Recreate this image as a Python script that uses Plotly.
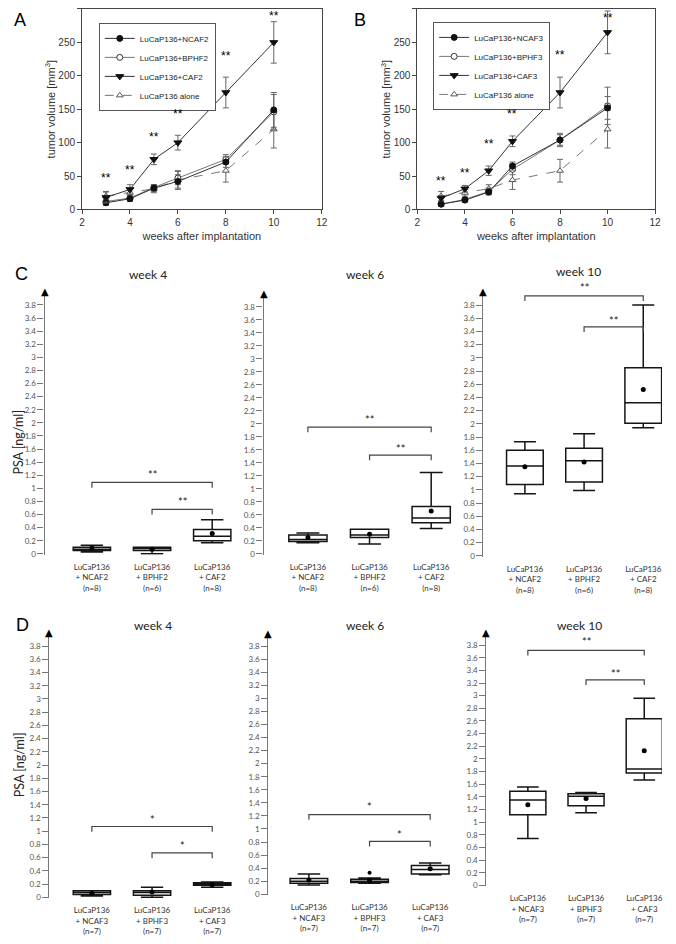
import plotly.graph_objects as go

W, H = 676, 944
OFF = 8                          # default page margin around the plot div
FW, FH = W - 2 * OFF, H - 2 * OFF  # figure fills the window exactly

# ---------------- data: tumour growth (panels A, B) ----------------
WEEKS = [3, 4, 5, 6, 8, 10]

A_NAMES = ["LuCaP136+NCAF2", "LuCaP136+BPHF2", "LuCaP136+CAF2", "LuCaP136 alone"]
A_NCAF2 = [10, 16, 32, 42, 71, 149]
A_NCAF2_ERR = [4, 4, 5, 10, 8, 26]
A_BPHF2 = [12, 17, 33, 47, 75, 146]
A_BPHF2_ERR = [5, 4, 4, 10, 7, 26]
A_CAF2 = [18, 30, 75, 100, 175, 250]
A_CAF2_ERR = [8, 7, 8, 11, 23, 31]
A_STARS_Y = [47, 59, 108, 143, 230, 289]

B_NAMES = ["LuCaP136+NCAF3", "LuCaP136+BPHF3", "LuCaP136+CAF3", "LuCaP136 alone"]
B_NCAF3 = [8, 14, 26, 65, 104, 152]
B_NCAF3_ERR = [3, 3, 4, 6, 10, 17]
B_BPHF3 = [8, 15, 27, 60, 104, 155]
B_BPHF3_ERR = [3, 3, 5, 8, 8, 28]
B_CAF3 = [17, 31, 58, 102, 175, 265]
B_CAF3_ERR = [4, 5, 7, 8, 23, 32]
B_STARS_Y = [42, 55, 98, 143, 231, 287]

ALONE = [20, 25, 31, 44, 58, 120]
ALONE_ERR = [7, 5, 6, 14, 17, 28]

# ---------------- data: PSA box plots (panels C, D) ----------------
PSA_TICKS = [0, 0.2, 0.4, 0.6, 0.8, 1, 1.2, 1.4, 1.6, 1.8, 2, 2.2, 2.4, 2.6, 2.8, 3, 3.2, 3.4, 3.6, 3.8]
PSA_TICK_TEXT = ["0", "0.2", "0.4", "0.6", "0.8", "1", "1.2", "1.4", "1.6", "1.8",
                 "2", "2.2", "2.4", "2.6", "2.8", "3", "3.2", "3.4", "3.6", "3.8"]
C_GROUPS = ["LuCaP136<br>+ NCAF2<br>(n=8)", "LuCaP136<br>+ BPHF2<br>(n=6)", "LuCaP136<br>+ CAF2<br>(n=8)"]
D_GROUPS = ["LuCaP136<br>+ NCAF3<br>(n=7)", "LuCaP136<br>+ BPHF3<br>(n=7)", "LuCaP136<br>+ CAF3<br>(n=7)"]
WEEK_TITLES = ["week 4", "week 6", "week 10"]
BRACKET_PAIRS = [(0, 2), (1, 2)]

C4_LOW = [0.03, 0.00, 0.17]
C4_Q1 = [0.05, 0.05, 0.20]
C4_MED = [0.07, 0.08, 0.27]
C4_Q3 = [0.10, 0.10, 0.37]
C4_HIGH = [0.13, 0.10, 0.52]
C4_MEAN = [0.09, 0.07, 0.31]
C4_BRACKET = [1.09, 0.68]
C4_STAR = [1.21, 0.80]

C6_LOW = [0.17, 0.15, 0.39]
C6_Q1 = [0.19, 0.25, 0.48]
C6_MED = [0.22, 0.29, 0.55]
C6_Q3 = [0.29, 0.38, 0.73]
C6_HIGH = [0.32, 0.38, 1.25]
C6_MEAN = [0.25, 0.30, 0.66]
C6_BRACKET = [1.95, 1.52]
C6_STAR = [2.07, 1.62]

C10_LOW = [0.94, 0.99, 1.94]
C10_Q1 = [1.08, 1.12, 2.01]
C10_MED = [1.36, 1.44, 2.32]
C10_Q3 = [1.60, 1.63, 2.85]
C10_HIGH = [1.73, 1.85, 3.80]
C10_MEAN = [1.35, 1.42, 2.52]
C10_BRACKET = [3.94, 3.47]
C10_STAR = [4.06, 3.57]

D4_LOW = [0.02, 0.00, 0.15]
D4_Q1 = [0.04, 0.03, 0.18]
D4_MED = [0.07, 0.07, 0.20]
D4_Q3 = [0.10, 0.10, 0.22]
D4_HIGH = [0.10, 0.15, 0.23]
D4_MEAN = [0.06, 0.08, 0.19]
D4_BRACKET = [1.07, 0.67]
D4_STAR = [1.18, 0.78]

D6_LOW = [0.14, 0.17, 0.30]
D6_Q1 = [0.17, 0.18, 0.31]
D6_MED = [0.20, 0.20, 0.38]
D6_Q3 = [0.24, 0.23, 0.44]
D6_HIGH = [0.31, 0.25, 0.48]
D6_MEAN = [0.22, 0.21, 0.39]
D6_OUTLIER_X = [1]
D6_OUTLIER_Y = [0.33]
D6_BRACKET = [1.22, 0.81]
D6_STAR = [1.34, 0.91]

D10_LOW = [0.74, 1.15, 1.665]
D10_Q1 = [1.115, 1.26, 1.775]
D10_MED = [1.35, 1.41, 1.84]
D10_Q3 = [1.49, 1.45, 2.635]
D10_HIGH = [1.555, 1.47, 2.96]
D10_MEAN = [1.275, 1.375, 2.13]
D10_BRACKET = [3.715, 3.25]
D10_STAR = [3.86, 3.35]


def fx(p):
    return min(max((p - OFF) / FW, 0.0), 1.0)


def fy(p):
    return min(max(1 - (p - OFF) / FH, 0.0), 1.0)


fig = go.Figure()
ARIAL = "Liberation Sans"
CAL = "Lato"

# ---------------- growth panels ----------------
STYLES = [
    dict(symbol="circle", fill="#111", edge="#111", lc="#333", dash="solid", size=6, rank=1),
    dict(symbol="circle", fill="white", edge="#333", lc="#777", dash="solid", size=6, rank=2),
    dict(symbol="triangle-down", fill="#111", edge="#111", lc="#333", dash="solid", size=7, rank=3),
    dict(symbol="triangle-up", fill="white", edge="#555", lc="#777", dash="dash", size=6, rank=4),
]


def growth(xa, ya, legend, names, values, errors, stars):
    order = [3, 1, 0, 2]
    for i in order:
        st = STYLES[i]
        fig.add_trace(go.Scatter(
            x=WEEKS, y=values[i], name=names[i], mode="lines+markers",
            xaxis=xa, yaxis=ya, legend=legend, legendrank=st["rank"],
            line=dict(color=st["lc"], width=1, dash=st["dash"]),
            marker=dict(symbol=st["symbol"], size=st["size"], color=st["fill"],
                        line=dict(color=st["edge"], width=1)),
            error_y=dict(type="data", array=errors[i], color="#666", thickness=1, width=3),
        ))
    for wk, sy in zip(WEEKS, stars):
        fig.add_annotation(x=wk, y=sy, xref=xa, yref=ya, text="**", showarrow=False,
                           font=dict(family=ARIAL, size=12, color="#000"))


growth("x", "y", "legend", A_NAMES, [A_NCAF2, A_BPHF2, A_CAF2, ALONE],
       [A_NCAF2_ERR, A_BPHF2_ERR, A_CAF2_ERR, ALONE_ERR], A_STARS_Y)
growth("x2", "y2", "legend2", B_NAMES, [B_NCAF3, B_BPHF3, B_CAF3, ALONE],
       [B_NCAF3_ERR, B_BPHF3_ERR, B_CAF3_ERR, ALONE_ERR], B_STARS_Y)

growth_x = dict(range=[2, 12], tick0=2, dtick=2, ticks="outside", ticklen=4, tickcolor="#444",
                showline=True, mirror=True, linecolor="#444", linewidth=1, showgrid=False, zeroline=False,
                tickfont=dict(family=ARIAL, size=10, color="#333"),
                title=dict(text="weeks after implantation", standoff=4,
                           font=dict(family=ARIAL, size=11, color="#333")))
growth_y = dict(range=[0, 300], tick0=0, dtick=50, ticks="outside", ticklen=4, tickcolor="#444",
                showline=True, mirror=True, linecolor="#444", linewidth=1, showgrid=False, zeroline=False,
                tickfont=dict(family=ARIAL, size=10, color="#333"),
                title=dict(text="tumor volume [mm<sup>3</sup>]", standoff=0,
                           font=dict(family=ARIAL, size=11, color="#333")))

fig.update_layout(
    xaxis=dict(growth_x, domain=[fx(80), fx(323)], anchor="y"),
    yaxis=dict(growth_y, domain=[fy(211), fy(9)], anchor="x"),
    xaxis2=dict(growth_x, domain=[fx(420), fx(661)], anchor="y2"),
    yaxis2=dict(growth_y, domain=[fy(211), fy(9)], anchor="x2"),
)
leg = dict(xanchor="left", yanchor="top", bgcolor="white", bordercolor="#555", borderwidth=1,
           font=dict(family=ARIAL, size=8, color="#222"), itemwidth=30, tracegroupgap=0)
fig.update_layout(legend=dict(leg, x=fx(97), y=fy(23)),
                  legend2=dict(leg, x=fx(436), y=fy(22)))

# ---------------- PSA box panels ----------------
YMIN, YMAX = -0.015, 3.96
# geometry: axis px, centre of group 0 px, px per group, right px, px of value 0, px per unit
PANELS = [
    dict(n=3, g=C_GROUPS, t=0, low=C4_LOW, q1=C4_Q1, med=C4_MED, q3=C4_Q3, high=C4_HIGH, mean=C4_MEAN,
         br=C4_BRACKET, st=C4_STAR, sig="**", geo=(42, 90, 61, 240, 558, 66), title=(147, 277)),
    dict(n=4, g=C_GROUPS, t=1, low=C6_LOW, q1=C6_Q1, med=C6_MED, q3=C6_Q3, high=C6_HIGH, mean=C6_MEAN,
         br=C6_BRACKET, st=C6_STAR, sig="**", geo=(264, 309, 62.5, 460, 558, 65.5), title=(367, 277)),
    dict(n=5, g=C_GROUPS, t=2, low=C10_LOW, q1=C10_Q1, med=C10_MED, q3=C10_Q3, high=C10_HIGH, mean=C10_MEAN,
         br=C10_BRACKET, st=C10_STAR, sig="**", geo=(487, 529, 60, 668, 560, 66.5), title=(583, 274)),
    dict(n=6, g=D_GROUPS, t=0, low=D4_LOW, q1=D4_Q1, med=D4_MED, q3=D4_Q3, high=D4_HIGH, mean=D4_MEAN,
         br=D4_BRACKET, st=D4_STAR, sig="*", geo=(47, 90, 61, 240, 904, 66.6), title=(152, 630)),
    dict(n=7, g=D_GROUPS, t=1, low=D6_LOW, q1=D6_Q1, med=D6_MED, q3=D6_Q3, high=D6_HIGH, mean=D6_MEAN,
         br=D6_BRACKET, st=D6_STAR, sig="*", geo=(269, 310, 61.5, 460, 901, 65.8), title=(367, 630)),
    dict(n=8, g=D_GROUPS, t=2, low=D10_LOW, q1=D10_Q1, med=D10_MED, q3=D10_Q3, high=D10_HIGH, mean=D10_MEAN,
         br=D10_BRACKET, st=D10_STAR, sig="**", geo=(490, 532, 59, 668, 892, 63.7), title=(584, 630)),
]

for p in PANELS:
    n = p["n"]
    xa, ya = f"x{n}", f"y{n}"
    ax_px, c0, unit, right, y0, ppu = p["geo"]
    idx = list(range(len(p["g"])))
    fig.add_trace(go.Box(
        x=idx, q1=p["q1"], median=p["med"], q3=p["q3"], lowerfence=p["low"], upperfence=p["high"],
        xaxis=xa, yaxis=ya, showlegend=False, fillcolor="white",
        line=dict(color="#151515", width=1.5), width=0.62, whiskerwidth=0.6, boxpoints=False,
    ))
    fig.add_trace(go.Scatter(x=idx, y=p["mean"], mode="markers", xaxis=xa, yaxis=ya, showlegend=False,
                             marker=dict(color="#000", size=5)))
    if n == 7:
        fig.add_trace(go.Scatter(x=D6_OUTLIER_X, y=D6_OUTLIER_Y, mode="markers", xaxis=xa, yaxis=ya,
                                 showlegend=False, marker=dict(color="#000", size=4)))
    for (a, b), h, s in zip(BRACKET_PAIRS, p["br"], p["st"]):
        d = 0.08
        fig.add_trace(go.Scatter(x=[a, a, b, b], y=[h - d, h, h, h - d], mode="lines", xaxis=xa, yaxis=ya,
                                 showlegend=False, line=dict(color="#444", width=1.2), cliponaxis=False))
        # significance marks: placed in paper space through the panel's own scale so that
        # marks above the axis top are still drawn
        fig.add_annotation(x=fx(c0 + (a + b) / 2 * unit), y=fy(y0 - s * ppu), xref="paper", yref="paper",
                           text=p["sig"], showarrow=False, xanchor="center", yanchor="middle",
                           font=dict(family=CAL, size=11, color="#222"))
    lo = (ax_px - c0) / unit
    hi = (right - c0) / unit
    fig.layout[f"xaxis{n}"] = dict(
        domain=[fx(ax_px), fx(right)], range=[lo, hi], anchor=ya, showline=False, showgrid=False,
        zeroline=False, ticks="", tickvals=idx, ticktext=p["g"], ticklabelstandoff=6,
        tickfont=dict(family=CAL, size=8, color="#333"))
    ydom = [fy(y0 - YMIN * ppu), fy(y0 - YMAX * ppu)]
    fig.layout[f"yaxis{n}"] = dict(
        domain=ydom, range=[YMIN, YMAX], anchor=xa, showline=True, linecolor="#777", linewidth=1.2,
        ticks="outside", ticklen=6, tickcolor="#777", tickwidth=1.2, tickvals=PSA_TICKS,
        ticktext=PSA_TICK_TEXT, showgrid=False, zeroline=False,
        tickfont=dict(family=CAL, size=8, color="#555"))
    fig.layout[f"yaxis{n + 6}"] = dict(
        overlaying=ya, anchor=xa, side="left", range=[YMIN, YMAX], showline=False, ticks="inside",
        ticklen=6, tickcolor="#777", tickwidth=1.2, tickvals=PSA_TICKS, showticklabels=False,
        showgrid=False, zeroline=False)
    fig.add_annotation(x=0, y=1, xref=f"{xa} domain", yref=f"{ya} domain", text="▲", showarrow=False,
                       xanchor="center", yanchor="bottom", yshift=-5,
                       font=dict(family="DejaVu Sans", size=10, color="#000"))
    tx, ty = p["title"]
    fig.add_annotation(x=fx(tx), y=fy(ty), xref="paper", yref="paper", text=WEEK_TITLES[p["t"]],
                       showarrow=False, xanchor="center", yanchor="middle",
                       font=dict(family=CAL, size=12, color="#222"))

# axis titles and panel letters (kept inside the drawable area of the page)
for yc in (445, 770):
    fig.add_annotation(x=fx(16), y=fy(yc), xref="paper", yref="paper", text="PSA [ng/ml]", textangle=-90,
                       xanchor="center", yanchor="middle",
                       showarrow=False, font=dict(family=CAL, size=12.5, color="#222"))
for letter, lx, ly, anchor in (("A", 17, 8, "top"), ("B", 362, 8, "top"),
                               ("C", 19, 276, "middle"), ("D", 20, 630, "middle")):
    fig.add_annotation(x=fx(lx), y=fy(ly), xref="paper", yref="paper", text=letter, showarrow=False,
                       xanchor="center", yanchor=anchor,
                       font=dict(family=ARIAL, size=18, color="#000"))

fig.update_layout(width=FW, height=FH, margin=dict(l=0, r=0, t=0, b=0), paper_bgcolor="white",
                  plot_bgcolor="white", showlegend=True)
fig.write_html("out.html")
